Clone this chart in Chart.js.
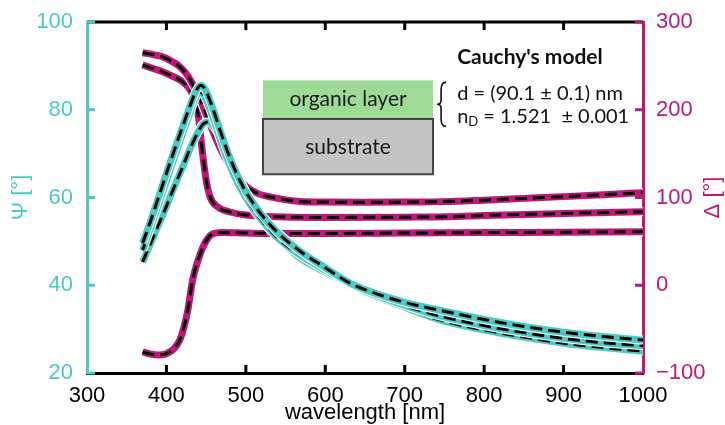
<!DOCTYPE html>
<html><head><meta charset="utf-8">
<script src="https://cdn.jsdelivr.net/npm/chart.js@4.4.1/dist/chart.umd.min.js"></script>
<style>html,body{margin:0;padding:0;background:#fff}</style>
</head><body>
<canvas id="c" width="725" height="425"></canvas>
<script>
// ---- data ----
const psiA_nm = [370,380,390,400,410,420,430,436,440,443,446,450,455,460,470,480,490,500,510,520,540,568,600,631,650,700,744,800,850,900,950,1000];
const psiA    = [49.6,54.6,60,65.5,70.8,76,81,83.8,85.1,85.6,85.3,84.2,82,79.5,74,69,64.8,61.3,58.5,56,52,47.8,44,40.5,39,36.1,34.3,32.2,30.6,29.3,28.3,27.5];
const psiB_nm = [370,380,390,400,410,420,430,435,439,443,447,452,460,470,480,490,500,510,520,540,568,600,631,650,700,744,800,850,900,950,1000];
const psiB    = [48.0,53,58.4,63.8,69.2,74.4,79.5,82,83.6,84,83.4,81.5,77.5,72,67.2,63.2,60,57.2,54.8,50.8,46.9,43.4,40.3,38.7,35.4,33.0,30.8,29.2,27.9,26.9,26.2];
const psiC_nm = [370,380,390,400,410,420,430,440,446,452,458,465,475,485,495,505,520,540,568,600,631,650,700,744,800,850,900,950,1000];
const psiC    = [45.3,49.5,53.8,58,62.5,66.8,71.2,75,76.7,77.2,76.5,74.5,70.5,66.5,63,59.8,55.4,50.9,46.2,43.0,40.2,38.5,35,32.1,29.8,28.2,26.8,25.8,25.0];

const delA_nm = [370,385,396,407,417,425,432,440,450,460,470,480,490,500,514,540,568,600,650,700,750,800,850,900,950,1000];
const delA    = [265,262.5,260,255,249,241,231,217,195,172,152,136,123,113,105,99,95.5,94.8,94.5,94.8,95.3,97,99,101,103.2,105.5];
const delB_nm = [370,385,396,407,417,424,430,436,440,445,450,455,465,480,500,550,600,700,757,800,900,1000];
const delB    = [251,246.5,243,238.5,234,229,222.5,210,194,154,120,100.6,89,83.5,80,77.8,77.3,77.6,78,79.5,81.8,83.8];
const delC_nm = [370,380,390,400,410,417,422,427,433,440,449,458,470,500,550,600,700,800,900,1000];
const delC    = [-76,-78.5,-79.5,-78,-72,-62,-48,-28,6,29,49,58.5,60,59.5,59,59,59.5,60,60.5,61];

const xTicks = [300,400,500,600,700,800,900,1000];

// ---- style ----
const TURQ = '#4BCAC3';
const MAG  = '#C0187A';
const ANNO_FONT = 'Lato, "Open Sans", sans-serif';

function pts(nm, v){ return nm.map((x,i)=>({x:x, y:v[i]})); }
function curveSets(nm, v, color, axis, base){
  const common = {pointRadius:0, pointHoverRadius:0, cubicInterpolationMode:'monotone', fill:false, yAxisID:axis};
  const d = pts(nm, v);
  return [
    Object.assign({}, common, {data:d, borderColor:'#ffffff', borderWidth:9, order:base+2}),
    Object.assign({}, common, {data:d, borderColor:color, borderWidth:7, order:base+1}),
    Object.assign({}, common, {data:d, borderColor:'#000000', borderWidth:3, borderDash:[12,6], order:base})
  ];
}

const datasets = [].concat(
  curveSets(psiA_nm, psiA, TURQ, 'y', 1),
  curveSets(psiB_nm, psiB, TURQ, 'y', 4),
  curveSets(psiC_nm, psiC, TURQ, 'y', 7),
  curveSets(delA_nm, delA, MAG, 'y2', 20),
  curveSets(delB_nm, delB, MAG, 'y2', 23),
  curveSets(delC_nm, delC, MAG, 'y2', 26)
);

const decor = {
  id:'decor',
  afterDraw(chart){
    const ctx = chart.ctx, ca = chart.chartArea;
    const xs = chart.scales.x, ys = chart.scales.y, y2 = chart.scales.y2;
    ctx.save();
    ctx.lineCap = 'butt';
    // top frame
    ctx.strokeStyle = '#000'; ctx.lineWidth = 3;
    ctx.beginPath(); ctx.moveTo(ca.left, ca.top); ctx.lineTo(ca.right, ca.top); ctx.stroke();
    // x ticks inward (bottom and top)
    xTicks.forEach(v=>{
      if (v===300 || v===1000) return;
      const px = xs.getPixelForValue(v);
      ctx.beginPath(); ctx.moveTo(px, ca.bottom); ctx.lineTo(px, ca.bottom-8); ctx.stroke();
      ctx.beginPath(); ctx.moveTo(px, ca.top); ctx.lineTo(px, ca.top+8); ctx.stroke();
    });
    // left ticks
    ctx.strokeStyle = TURQ;
    ys.ticks.forEach(t=>{ const py = ys.getPixelForValue(t.value);
      ctx.beginPath(); ctx.moveTo(ca.left, py); ctx.lineTo(ca.left+8, py); ctx.stroke(); });
    ctx.strokeStyle = MAG;
    y2.ticks.forEach(t=>{ const py = y2.getPixelForValue(t.value);
      ctx.beginPath(); ctx.moveTo(ca.right, py); ctx.lineTo(ca.right-8, py); ctx.stroke(); });

    // axis titles
    ctx.font = '22px "Liberation Sans", Arial, sans-serif';
    ctx.textAlign = 'center'; ctx.textBaseline = 'middle';
    ctx.fillStyle = '#000';
    ctx.fillText('wavelength [nm]', (ca.left+ca.right)/2, 413);
    ctx.fillStyle = TURQ;
    ctx.save(); ctx.translate(21, (ca.top+ca.bottom)/2); ctx.rotate(-Math.PI/2); ctx.fillText('\u03A8 [\u00B0]', 0, 0); ctx.restore();
    ctx.fillStyle = MAG;
    ctx.save(); ctx.translate(713, (ca.top+ca.bottom)/2); ctx.rotate(-Math.PI/2); ctx.fillText('\u0394 [\u00B0]', 0, 0); ctx.restore();

    // layer sketch
    const bx0 = xs.getPixelForValue(521.6), bx1 = xs.getPixelForValue(735.6);
    const g0 = ys.getPixelForValue(86.7), g1 = ys.getPixelForValue(77.9), s1 = ys.getPixelForValue(65.3);
    ctx.fillStyle = '#9DDB97'; ctx.fillRect(bx0, g0, bx1-bx0, g1-g0);
    ctx.fillStyle = '#C4C4C4'; ctx.fillRect(bx0, g1, bx1-bx0, s1-g1);
    ctx.strokeStyle = '#444'; ctx.lineWidth = 2;
    ctx.strokeRect(bx0, g1, bx1-bx0, s1-g1);
    ctx.fillStyle = '#1a1a1a';
    ctx.font = '21px ' + ANNO_FONT;
    ctx.fillText('organic layer', (bx0+bx1)/2, (g0+g1)/2);
    ctx.fillText('substrate', (bx0+bx1)/2, (g1+s1)/2+1);

    // model text
    const tx = xs.getPixelForValue(766);
    ctx.textAlign = 'left'; ctx.fillStyle = '#111';
    ctx.font = 'bold 21px ' + ANNO_FONT;
    ctx.fillText("Cauchy's model", tx, ys.getPixelForValue(92));
    ctx.font = '20px ' + ANNO_FONT;
    ctx.fillText('d = (90.1 \u00B1 0.1) nm', tx, ys.getPixelForValue(83.8));
    const ny = ys.getPixelForValue(78.5);
    ctx.fillText('n', tx, ny);
    const nw = ctx.measureText('n').width;
    ctx.font = '13px ' + ANNO_FONT;
    ctx.fillText('D', tx+nw, ny+5);
    const dw = ctx.measureText('D').width;
    ctx.font = '20px ' + ANNO_FONT;
    ctx.fillText(' = 1.521  \u00B1 0.001', tx+nw+dw, ny);
    // brace
    const bxl = xs.getPixelForValue(742), bxr = xs.getPixelForValue(752);
    const by0 = ys.getPixelForValue(86.3), by1 = ys.getPixelForValue(76.2), bym = (by0+by1)/2;
    ctx.strokeStyle = '#111'; ctx.lineWidth = 1.6;
    ctx.beginPath();
    ctx.moveTo(bxr, by0);
    ctx.quadraticCurveTo(bxl+3, by0, bxl+3, by0+8);
    ctx.lineTo(bxl+3, bym-4);
    ctx.quadraticCurveTo(bxl+3, bym, bxl-1, bym);
    ctx.quadraticCurveTo(bxl+3, bym, bxl+3, bym+4);
    ctx.lineTo(bxl+3, by1-8);
    ctx.quadraticCurveTo(bxl+3, by1, bxr, by1);
    ctx.stroke();
    ctx.restore();
  }
};

const tickFont = {family:'"Liberation Sans", Arial, sans-serif', size:22};
new Chart(document.getElementById('c'), {
  type:'line',
  data:{datasets:datasets},
  plugins:[decor],
  options:{
    responsive:false, animation:false, events:[],
    layout:{padding:{top:22, left:0, right:0, bottom:0}},
    plugins:{legend:{display:false}, tooltip:{enabled:false}},
    elements:{line:{borderCapStyle:'butt', borderJoinStyle:'round'}},
    scales:{
      x:{type:'linear', min:300, max:1000, position:'bottom',
         afterBuildTicks(s){ s.ticks = xTicks.map(v=>({value:v})); },
         afterFit(s){ s.height = 52; },
         grid:{display:false}, border:{display:true, color:'#000', width:3},
         ticks:{color:'#000', font:tickFont, padding:2, maxRotation:0, autoSkip:false,
                callback:(v)=>String(v)}},
      y:{type:'linear', min:20, max:100, position:'left',
         afterFit(s){ s.width = 87; },
         grid:{display:false}, border:{display:true, color:TURQ, width:3},
         ticks:{color:TURQ, font:tickFont, stepSize:20, padding:6}},
      y2:{type:'linear', min:-100, max:300, position:'right',
         afterFit(s){ s.width = 82; },
         grid:{display:false}, border:{display:true, color:MAG, width:3},
         ticks:{color:MAG, font:tickFont, stepSize:100, padding:5,
                callback:(v)=> v<0 ? '\u2212'+Math.abs(v) : String(v)}}
    }
  }
});
</script>
</body></html>
